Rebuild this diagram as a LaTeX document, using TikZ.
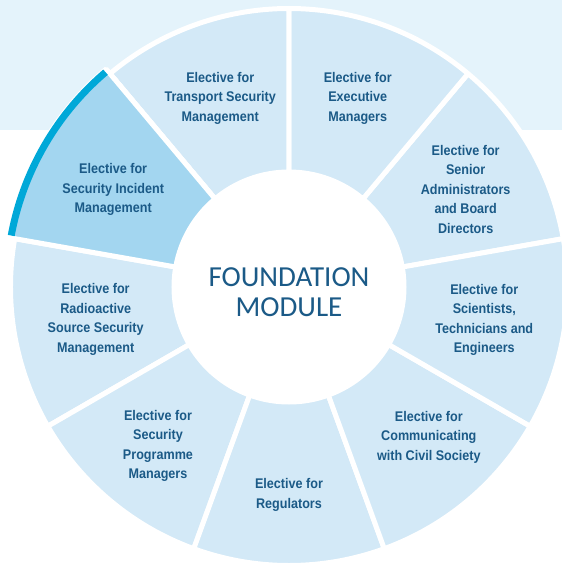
\documentclass[tikz,border=0pt]{standalone}
\usepackage{fontspec}
\setmainfont{Liberation Sans}
\newfontfamily\segfont[FakeStretch=0.9]{Liberation Sans}
\newfontfamily\modfont{Carlito}

\definecolor{bandBlue}{HTML}{E4F3FB}
\definecolor{segBlue}{HTML}{D3E9F7}
\definecolor{segActive}{HTML}{A3D6F0}
\definecolor{arcCyan}{HTML}{00A8D8}
\definecolor{textBlue}{HTML}{1B5A87}

\tikzset{
    segment/.style={fill=segBlue,draw=white,line width=5pt,line join=bevel},
    seglabel/.style={align=center,text=textBlue,font=\segfont\bfseries\fontsize{14}{19.5}\selectfont},
    modlabel/.style={align=center,text=textBlue,font=\modfont\fontsize{29}{30}\selectfont}
}

\begin{document}
\begin{tikzpicture}[x=1pt,y=1pt]

        % -----------
        % Parameters.
        % -----------

        \pgfmathsetmacro{\rOut}{278.5}      % Outer radius of the ring.
        \pgfmathsetmacro{\rIn}{115}         % Inner radius of the ring.
        \pgfmathsetmacro{\rActive}{284.5}   % Outer radius of the active segment.
        \pgfmathsetmacro{\rArc}{282.5}      % Radius of the highlight arc.
        \pgfmathsetmacro{\rLabel}{201}      % Radius of the segment labels.

        % --------
        % Drawing.
        % --------

        % Page and top band.
        \useasboundingbox(-289,-278)rectangle(273,287);
        \fill[white](-289,-278)rectangle(273,287);
        \fill[bandBlue](-289,157)rectangle(273,287);

        % Ring segments.
        \foreach \angStart in {10,50,...,330}{
            \draw[segment](\angStart:\rIn pt)--(\angStart:\rOut pt)
                arc[start angle=\angStart,end angle=\angStart+40,radius=\rOut pt]
                --(\angStart+40:\rIn pt)
                arc[start angle=\angStart+40,end angle=\angStart,radius=\rIn pt]--cycle;
        }

        % Active segment.
        \draw[segment,fill=segActive](130:\rIn pt)--(130:\rActive pt)
            arc[start angle=130,end angle=170,radius=\rActive pt]
            --(170:\rIn pt)
            arc[start angle=170,end angle=130,radius=\rIn pt]--cycle;

        % Highlight arc.
        \draw[arcCyan,line width=7pt](130.5:\rArc pt)arc[start angle=130.5,end angle=169.5,radius=\rArc pt];

        % Segment labels.
        \node[seglabel](transport)at(110:\rLabel pt){Elective for\\Transport Security\\Management};
        \node[seglabel](executive)at(70:\rLabel pt){Elective for\\Executive\\Managers};
        \node[seglabel](senior)at(29:202pt){Elective for\\Senior\\Administrators\\and Board\\Directors};
        \node[seglabel](scientists)at(-9.5:198pt){Elective for\\Scientists,\\Technicians and\\Engineers};
        \node[seglabel](civil)at(-47:205pt){Elective for\\Communicating\\with Civil Society};
        \node[seglabel](regulators)at(-90:208pt){Elective for\\Regulators};
        \node[seglabel](programme)at(-129.5:206pt){Elective for\\Security\\Programme\\Managers};
        \node[seglabel](radioactive)at(189.5:196pt){Elective for\\Radioactive\\Source Security\\Management};
        \node[seglabel](incident)at(151:\rLabel pt){Elective for\\Security Incident\\Management};

        % Foundation module.
        \node[modlabel](foundation)at(0,-5){FOUNDATION\\MODULE};

    \end{tikzpicture}
\end{document}
